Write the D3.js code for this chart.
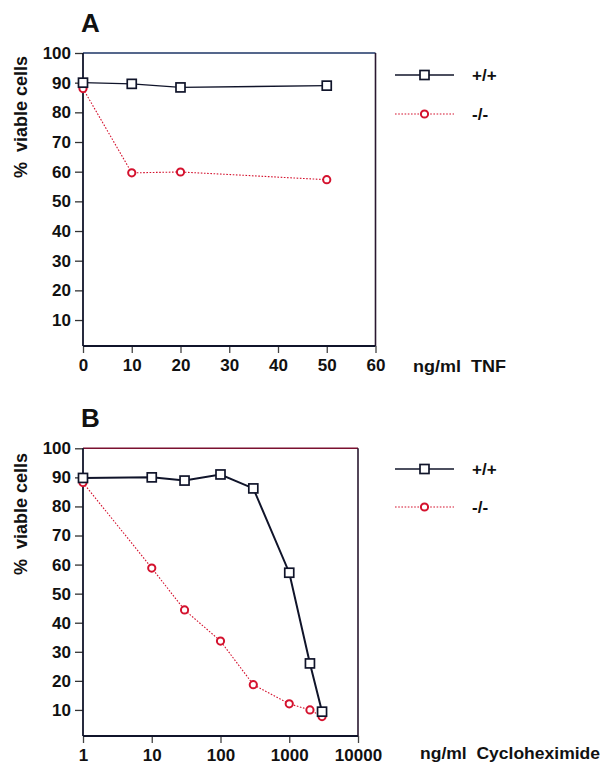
<!DOCTYPE html>
<html><head><meta charset="utf-8">
<script src="https://cdn.jsdelivr.net/npm/d3@7"></script>
<style>body{margin:0;background:#fff}text{font-family:"Liberation Sans",Arial,Helvetica,sans-serif;font-weight:bold;fill:#111;white-space:pre}</style>
</head><body>
<svg id="c" width="613" height="765"></svg>
<script>
// Panel A data (TNF, ng/ml)
const tnfDose = [0, 10, 20, 50];
const tnfWT = [90, 89.6, 88.4, 89.0];
const tnfKO = [88.0, 59.6, 59.9, 57.3];
// Panel B data (Cycloheximide, ng/ml)
const chxDose = [1, 10, 30, 100, 300, 1000, 2000, 3000];
const chxWT = [89.8, 90.0, 88.9, 91.0, 86.2, 57.2, 26.0, 9.4];
const chxKO = [88.2, 58.8, 44.4, 33.7, 18.7, 12.1, 10.0, 7.7];
const yTicks = [10, 20, 30, 40, 50, 60, 70, 80, 90, 100];
const xTicksA = [0, 10, 20, 30, 40, 50, 60];
const xTicksB = [1, 10, 100, 1000, 10000];
const seriesNames = ["+/+", "-/-"];
const panelTitles = ["A", "B"];
const xUnits = ["ng/ml  TNF", "ng/ml  Cycloheximide"];
const yTitle = "%  viable cells";

const svg = d3.select("#c");
const RED = "#d4122e", DARK = "#10142a";

function panel(o) {
  const g = svg.append("g");
  const x = o.x, y = o.y;
  const [x0, x1] = x.range();
  // frame
  g.append("line").attr("x1", x0).attr("x2", x1).attr("y1", o.top).attr("y2", o.top).attr("stroke", o.topColor).attr("stroke-width", 1.6);
  g.append("line").attr("x1", x1).attr("x2", x1).attr("y1", o.top).attr("y2", o.bottom).attr("stroke", "#2a1830").attr("stroke-width", 1.6);
  // y axis
  const ya = g.append("g").attr("transform", `translate(${x0},0)`).call(d3.axisLeft(y).tickValues(yTicks).tickSize(8).tickPadding(4).tickFormat(d3.format("d")));
  ya.select(".domain").remove();
  g.append("line").attr("x1", x0).attr("x2", x0).attr("y1", o.top).attr("y2", o.bottom).attr("stroke", DARK).attr("stroke-width", 1.8);
  ya.selectAll(".tick line").attr("stroke", "#333").attr("stroke-width", 1.3);
  ya.selectAll(".tick text").style("font-size", "17px").attr("fill", "#111");
  // x axis
  const xa = g.append("g").attr("transform", `translate(0,${o.bottom})`).call(d3.axisBottom(x).tickValues(o.xTicks).tickSize(7).tickPadding(6).tickFormat(d3.format("d")));
  xa.select(".domain").remove();
  g.append("line").attr("x1", x0).attr("x2", x1).attr("y1", o.bottom).attr("y2", o.bottom).attr("stroke", DARK).attr("stroke-width", 1.8);
  xa.selectAll(".tick line").attr("stroke", "#444").attr("stroke-width", 1.3);
  xa.selectAll(".tick text").style("font-size", "17px").attr("fill", "#111");
  // titles
  g.append("text").attr("x", 81).attr("y", o.top - 21).style("font-size", "26px").text(o.title);
  g.append("text").attr("transform", `translate(27,${o.labelY}) rotate(-90)`).attr("text-anchor", "middle").style("font-size", "18px").text(yTitle);
  g.append("text").attr("x", o.unitX).attr("y", o.bottom + o.unitDy).style("font-size", "17px")
    .attr("textLength", o.unitLen).attr("lengthAdjust", "spacingAndGlyphs").text(o.unit);
  // data
  const ptsKO = o.dose.map((d, i) => [x(d), y(o.ko[i])]);
  const ptsWT = o.dose.map((d, i) => [x(d), y(o.wt[i])]);
  g.append("path").attr("d", d3.line()(ptsKO)).attr("fill", "none").attr("stroke", RED).attr("stroke-width", 1.1).attr("stroke-dasharray", "1.6,1.6");
  g.selectAll(".ko").data(ptsKO).join("circle").attr("cx", d => d[0]).attr("cy", d => d[1]).attr("r", 3.6).attr("fill", "#fff").attr("stroke", RED).attr("stroke-width", 2);
  g.append("path").attr("d", d3.line()(ptsWT)).attr("fill", "none").attr("stroke", DARK).attr("stroke-width", o.wtWidth);
  g.selectAll(".wt").data(ptsWT).join("rect").attr("x", d => d[0] - 4.5).attr("y", d => d[1] - 4.5).attr("width", 9).attr("height", 9).attr("fill", "#fff").attr("stroke", DARK).attr("stroke-width", 1.7);
  // legend
  const lx0 = 395, lx1 = 454, lc = 424.5;
  g.append("line").attr("x1", lx0).attr("x2", lx1).attr("y1", o.legY[0]).attr("y2", o.legY[0]).attr("stroke", DARK).attr("stroke-width", 1.5);
  g.append("rect").attr("x", lc - 4.5).attr("y", o.legY[0] - 4.5).attr("width", 9).attr("height", 9).attr("fill", "#fff").attr("stroke", DARK).attr("stroke-width", 1.7);
  g.append("line").attr("x1", lx0).attr("x2", lx1).attr("y1", o.legY[1]).attr("y2", o.legY[1]).attr("stroke", RED).attr("stroke-width", 1.1).attr("stroke-dasharray", "1.6,1.6");
  g.append("circle").attr("cx", lc).attr("cy", o.legY[1]).attr("r", 3.6).attr("fill", "#fff").attr("stroke", RED).attr("stroke-width", 2);
  seriesNames.forEach((s, i) => g.append("text").attr("x", 472).attr("y", o.legY[i] + 6).style("font-size", "17px").text(s));
}

panel({
  x: d3.scaleLinear().domain([0, 60]).range([83, 375.5]),
  y: d3.scaleLinear().domain([0, 100]).range([349.7, 53]),
  top: 53, bottom: 346, topColor: "#1d3566", xTicks: xTicksA,
  dose: tnfDose, wt: tnfWT, ko: tnfKO, wtWidth: 1.3,
  title: panelTitles[0], unit: xUnits[0], unitX: 413, unitLen: 93, unitDy: 26, labelY: 117, legY: [75, 114]
});
panel({
  x: d3.scaleLog().domain([1, 10000]).range([83, 358]),
  y: d3.scaleLinear().domain([0, 100]).range([739, 448.3]),
  top: 448.3, bottom: 736, topColor: "#7a1030", xTicks: xTicksB,
  dose: chxDose, wt: chxWT, ko: chxKO, wtWidth: 2,
  title: panelTitles[1], unit: xUnits[1], unitX: 420, unitLen: 180, unitDy: 23, labelY: 514, legY: [469, 507]
});
</script>
</body></html>
